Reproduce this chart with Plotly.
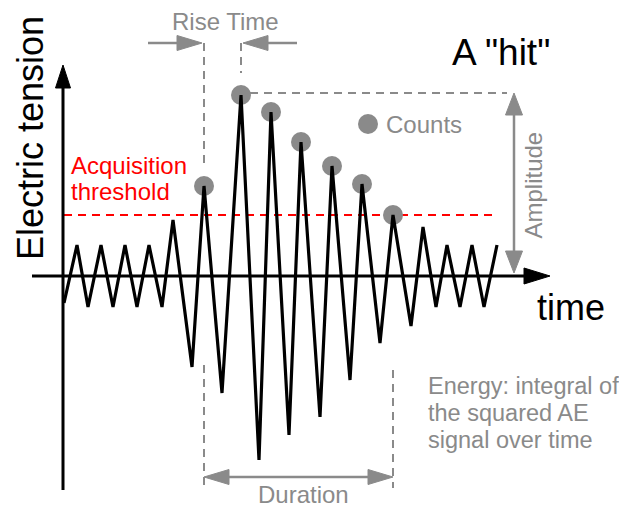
import plotly.graph_objects as go

# ---- data (time / electric tension, arbitrary units) ----
time = [0, 13, 24, 37, 49, 61, 73, 85, 98, 109, 128, 140, 158, 177, 195, 207,
        225, 237, 256, 268, 286, 298, 316, 329, 347, 359, 372, 383, 396, 408, 420, 433]
tension = [-27, 31, -31, 31, -31, 31, -31, 31, -31, 56, -91, 90, -117, 181, -184, 164,
           -159, 134, -141, 110, -104, 92, -67, 61, -50, 49, -31, 31, -31, 31, -31, 31]
threshold = 61

# counts: peaks reaching the threshold
count_t = [t for i, (t, v) in enumerate(zip(time, tension))
           if v >= threshold and 0 < i < len(time) - 1]
count_v = [v for i, (t, v) in enumerate(zip(time, tension))
           if v >= threshold and 0 < i < len(time) - 1]
amp = max(tension)
t_peak = time[tension.index(amp)]
t_first = count_t[0]
t_last = count_t[-1]

GREY = "#8a8a8a"
FONT = "Arial, 'Liberation Sans', sans-serif"
SMALL = 24
BIG = 36

fig = go.Figure()
shapes = []


def line(x0, y0, x1, y1, color, width, dash=None, layer="below"):
    d = dict(type="line", x0=x0, y0=y0, x1=x1, y1=y1, layer=layer,
             line=dict(color=color, width=width))
    if dash:
        d["line"]["dash"] = dash
    shapes.append(d)


def head(xt, yt, dx, dy, length, w, color):
    n = (dx * dx + dy * dy) ** 0.5
    ux, uy = dx / n, dy / n
    bx, by = xt - ux * length, yt - uy * length
    px, py = -uy * w / 2, ux * w / 2
    path = f"M{xt},{yt} L{bx+px},{by+py} L{bx-px},{by-py} Z"
    shapes.append(dict(type="path", path=path, fillcolor=color,
                       line=dict(color=color, width=1), layer="above"))


def arrow(x0, y0, x1, y1, color, width, length, w, both=False):
    dx, dy = x1 - x0, y1 - y0
    n = (dx * dx + dy * dy) ** 0.5
    ux, uy = dx / n, dy / n
    sx, sy = (x0 + ux * length, y0 + uy * length) if both else (x0, y0)
    line(sx, sy, x1 - ux * (length - 2), y1 - uy * (length - 2), color, width, layer="above")
    head(x1, y1, dx, dy, length, w, color)
    if both:
        head(x0, y0, -dx, -dy, length, w, color)


# axes
arrow(-1, -214, -1, 211, "black", 3, 23, 15)
arrow(-32, 0, 486, 0, "black", 3, 26, 16)

# threshold
line(0, threshold, 429, threshold, "red", 2, "8px,6px")
# amplitude top guide
line(t_peak + 9, amp + 2, 443, amp + 2, GREY, 2, "8px,6px")
# rise-time guides
line(t_first, 233, t_first, 109, GREY, 2, "8px,6px")
line(t_peak, 233, t_peak, 203, GREY, 2, "8px,6px")
# duration guides
line(t_first, -89, t_first, -212, GREY, 2, "8px,6px")
line(t_last, -94, t_last, -212, GREY, 2, "8px,6px")

# grey arrows
arrow(84, 233, t_first - 2, 233, GREY, 2.5, 25, 15)
arrow(233, 233, t_peak + 2, 233, GREY, 2.5, 25, 15)
arrow(t_first, -201, t_last, -201, GREY, 2.5, 25, 15, both=True)
arrow(450, 3, 450, amp + 2, GREY, 2.5, 22, 17, both=True)

# counts markers (under the signal)
fig.add_trace(go.Scatter(x=count_t, y=count_v, mode="markers",
                         marker=dict(size=20, color=GREY), hoverinfo="skip"))
fig.add_trace(go.Scatter(x=[304], y=[152], mode="markers",
                         marker=dict(size=20, color=GREY), hoverinfo="skip"))
# signal
fig.add_trace(go.Scatter(x=time, y=tension, mode="lines",
                         line=dict(color="black", width=3.2), hoverinfo="skip"))

ann = [
    dict(x=161.5, y=255, text="Rise Time", font=dict(size=SMALL, color=GREY)),
    dict(x=239.5, y=-218, text="Duration", font=dict(size=SMALL, color=GREY)),
    dict(x=320, y=152, text="Counts", xanchor="left", font=dict(size=SMALL, color=GREY)),
    dict(x=468.5, y=91, text="Amplitude", textangle=-90, font=dict(size=SMALL, color=GREY)),
    dict(x=386, y=224, text='A "hit"', xanchor="left", font=dict(size=BIG + 1, color="black")),
    dict(x=471, y=-31, text="time", xanchor="left", font=dict(size=BIG, color="black")),
    dict(x=-34, y=138, text="Electric tension", textangle=-90, font=dict(size=BIG, color="black")),
    dict(x=5, y=111, text="Acquisition", xanchor="left", font=dict(size=SMALL, color="red")),
    dict(x=5, y=85, text="threshold", xanchor="left", font=dict(size=SMALL, color="red")),
    dict(x=362, y=-110, text="Energy: integral of", xanchor="left", font=dict(size=23.5, color=GREY)),
    dict(x=362, y=-137, text="the squared AE", xanchor="left", font=dict(size=23.5, color=GREY)),
    dict(x=362, y=-164, text="signal over time", xanchor="left", font=dict(size=23.5, color=GREY)),
]
for a in ann:
    a.update(xref="x", yref="y", showarrow=False)
    a.setdefault("xanchor", "center")
    a["yanchor"] = "middle"

# the page body adds an 8 px offset; ranges are shifted to compensate
fig.update_layout(
    width=627, height=507, margin=dict(l=0, r=0, t=0, b=0),
    paper_bgcolor="white", plot_bgcolor="white", showlegend=False,
    font=dict(family=FONT),
    xaxis=dict(range=[-56, 571], visible=False, fixedrange=True),
    yaxis=dict(range=[-239, 268], visible=False, fixedrange=True),
    shapes=shapes, annotations=ann,
)

fig.write_html("out.html")
